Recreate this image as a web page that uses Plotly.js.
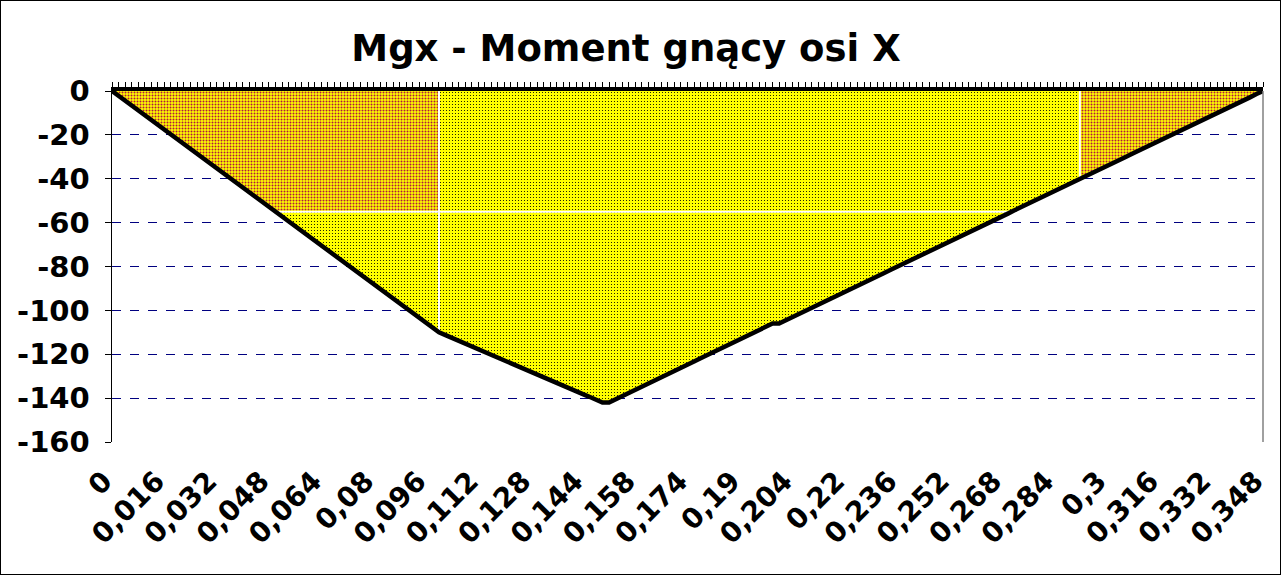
<!DOCTYPE html>
<html>
<head>
<meta charset="utf-8">
<script src="https://cdn.plot.ly/plotly-3.0.1.min.js"></script>
<style>
  html, body { margin: 0; padding: 0; background: #fff; }
  #wrap { position: relative; width: 1281px; height: 575px; }
  #chart { position: absolute; left: 0; top: 0; width: 1281px; height: 575px; }
  #frame { position: absolute; left: 0; top: 0; width: 1279px; height: 573px; border: 1px solid #000; pointer-events: none; }
</style>
</head>
<body>
<div id="wrap"><div id="chart"></div><div id="frame"></div></div>
<script>
// Positions along the beam (category axis, duplicated at 0.15 and 0.2)
const positions = [
  0, 0.002, 0.004, 0.006, 0.008, 0.01, 0.012, 0.014, 0.016, 0.018,
  0.02, 0.022, 0.024, 0.026, 0.028, 0.03, 0.032, 0.034, 0.036, 0.038,
  0.04, 0.042, 0.044, 0.046, 0.048, 0.05, 0.052, 0.054, 0.056, 0.058,
  0.06, 0.062, 0.064, 0.066, 0.068, 0.07, 0.072, 0.074, 0.076, 0.078,
  0.08, 0.082, 0.084, 0.086, 0.088, 0.09, 0.092, 0.094, 0.096, 0.098,
  0.1, 0.102, 0.104, 0.106, 0.108, 0.11, 0.112, 0.114, 0.116, 0.118,
  0.12, 0.122, 0.124, 0.126, 0.128, 0.13, 0.132, 0.134, 0.136, 0.138,
  0.14, 0.142, 0.144, 0.146, 0.148, 0.15, 0.15, 0.152, 0.154, 0.156,
  0.158, 0.16, 0.162, 0.164, 0.166, 0.168, 0.17, 0.172, 0.174, 0.176,
  0.178, 0.18, 0.182, 0.184, 0.186, 0.188, 0.19, 0.192, 0.194, 0.196,
  0.198, 0.2, 0.2, 0.202, 0.204, 0.206, 0.208, 0.21, 0.212, 0.214,
  0.216, 0.218, 0.22, 0.222, 0.224, 0.226, 0.228, 0.23, 0.232, 0.234,
  0.236, 0.238, 0.24, 0.242, 0.244, 0.246, 0.248, 0.25, 0.252, 0.254,
  0.256, 0.258, 0.26, 0.262, 0.264, 0.266, 0.268, 0.27, 0.272, 0.274,
  0.276, 0.278, 0.28, 0.282, 0.284, 0.286, 0.288, 0.29, 0.292, 0.294,
  0.296, 0.298, 0.3, 0.302, 0.304, 0.306, 0.308, 0.31, 0.312, 0.314,
  0.316, 0.318, 0.32, 0.322, 0.324, 0.326, 0.328, 0.33, 0.332, 0.334,
  0.336, 0.338, 0.34, 0.342, 0.344, 0.346, 0.348
];

// Bending moment Mgx
const momentMgx = [
  0, -2.2, -4.4, -6.6, -8.8, -11, -13.2, -15.4, -17.6, -19.8,
  -22, -24.2, -26.4, -28.6, -30.8, -33, -35.2, -37.4, -39.6, -41.8,
  -44, -46.2, -48.4, -50.6, -52.8, -55, -57.2, -59.4, -61.6, -63.8,
  -66, -68.2, -70.4, -72.6, -74.8, -77, -79.2, -81.4, -83.6, -85.8,
  -88, -90.2, -92.4, -94.6, -96.8, -99, -101.2, -103.4, -105.6, -107.8,
  -110, -111.3, -112.6, -113.8, -115.1, -116.4, -117.7, -119.0, -120.2, -121.5,
  -122.8, -124.1, -125.4, -126.6, -127.9, -129.2, -130.5, -131.8, -133.0, -134.3,
  -135.6, -136.9, -138.2, -139.4, -140.7, -142.0, -142.0, -140.6, -139.1, -137.7,
  -136.2, -134.8, -133.4, -131.9, -130.5, -129.0, -127.6, -126.2, -124.7, -123.3,
  -121.8, -120.4, -119.0, -117.5, -116.1, -114.6, -113.2, -111.8, -110.3, -108.9,
  -107.4, -106.0, -106.0, -104.6, -103.1, -101.7, -100.3, -98.8, -97.4, -96.0,
  -94.5, -93.1, -91.7, -90.2, -88.8, -87.4, -85.9, -84.5, -83.1, -81.6,
  -80.2, -78.8, -77.4, -75.9, -74.5, -73.1, -71.6, -70.2, -68.8, -67.3,
  -65.9, -64.5, -63.0, -61.6, -60.2, -58.7, -57.3, -55.9, -54.4, -53.0,
  -51.6, -50.1, -48.7, -47.3, -45.8, -44.4, -43.0, -41.5, -40.1, -38.7,
  -37.2, -35.8, -34.4, -32.9, -31.5, -30.1, -28.6, -27.2, -25.8, -24.4,
  -22.9, -21.5, -20.1, -18.6, -17.2, -15.8, -14.3, -12.9, -11.5, -10.0,
  -8.6, -7.2, -5.7, -4.3, -2.9, -1.4, 0
];

const xTickLabels = ['0', '0,016', '0,032', '0,048', '0,064', '0,08', '0,096', '0,112',
  '0,128', '0,144', '0,158', '0,174', '0,19', '0,204', '0,22', '0,236', '0,252',
  '0,268', '0,284', '0,3', '0,316', '0,332', '0,348'];
const yTickValues = [0, -20, -40, -60, -80, -100, -120, -140, -160];

// Highlighted zones
const zoneLeftEnd = 0.1;      // x limit of left zone
const zoneLeftDepth = -55;    // moment limit of left zone
const zoneRightStart = 0.292; // x start of right zone

const labelStep = 8;
const idx = momentMgx.map((_, i) => i);

function posToIndex(p) {
  for (let i = 0; i < positions.length - 1; i++) {
    if (positions[i] <= p && positions[i + 1] >= p && positions[i + 1] > positions[i]) {
      return i + (p - positions[i]) / (positions[i + 1] - positions[i]);
    }
  }
  return positions.length - 1;
}
function valueAt(fi) {
  const i = Math.floor(fi), f = fi - i;
  if (i >= momentMgx.length - 1) return momentMgx[momentMgx.length - 1];
  return momentMgx[i] + f * (momentMgx[i + 1] - momentMgx[i]);
}
function crossIndex(level, fromRight) {
  const n = momentMgx.length;
  if (!fromRight) {
    for (let i = 0; i < n - 1; i++) {
      const a = momentMgx[i], b = momentMgx[i + 1];
      if (a === level) return i;
      if (a > level && b < level) return i + (a - level) / (a - b);
    }
  } else {
    for (let i = n - 1; i > 0; i--) {
      const a = momentMgx[i], b = momentMgx[i - 1];
      if (a === level) return i;
      if (a > level && b < level) return i - (a - level) / (a - b);
    }
  }
  return 0;
}

const iLeft = posToIndex(zoneLeftEnd);
const iRight = posToIndex(zoneRightStart);

const leftX = [], leftY = [];
for (let i = 0; i <= Math.floor(iLeft); i++) { leftX.push(i); leftY.push(Math.max(momentMgx[i], zoneLeftDepth)); }
if (iLeft > Math.floor(iLeft)) { leftX.push(iLeft); leftY.push(Math.max(valueAt(iLeft), zoneLeftDepth)); }

const rightX = [iRight], rightY = [valueAt(iRight)];
for (let i = Math.ceil(iRight); i < momentMgx.length; i++) { if (i > iRight) { rightX.push(i); rightY.push(momentMgx[i]); } }

const yellowPattern = { shape: '.', bgcolor: '#FFFF00', fgcolor: '#000000', size: 3, solidity: 0.12 };
const orangePattern = { shape: '.', bgcolor: '#FFFF00', fgcolor: '#B01840', size: 3, solidity: 0.34 };

const white = { color: '#FFFFFF', width: 2 };

const traces = [
  { x: idx, y: momentMgx, type: 'scatter', mode: 'lines', fill: 'tozeroy',
    fillcolor: '#FFFF00', fillpattern: yellowPattern, line: { width: 0, color: 'rgba(0,0,0,0)' }, hoverinfo: 'skip' },
  { x: leftX, y: leftY, type: 'scatter', mode: 'lines', fill: 'tozeroy',
    fillcolor: '#FFFF00', fillpattern: orangePattern, line: { width: 0, color: 'rgba(0,0,0,0)' }, hoverinfo: 'skip' },
  { x: rightX, y: rightY, type: 'scatter', mode: 'lines', fill: 'tozeroy',
    fillcolor: '#FFFF00', fillpattern: orangePattern, line: { width: 0, color: 'rgba(0,0,0,0)' }, hoverinfo: 'skip' },
  { x: [iLeft, iLeft], y: [0, valueAt(iLeft)], type: 'scatter', mode: 'lines', line: white, hoverinfo: 'skip' },
  { x: [iRight, iRight], y: [0, valueAt(iRight)], type: 'scatter', mode: 'lines', line: white, hoverinfo: 'skip' },
  { x: [crossIndex(zoneLeftDepth, false), crossIndex(zoneLeftDepth, true)], y: [zoneLeftDepth, zoneLeftDepth],
    type: 'scatter', mode: 'lines', line: white, hoverinfo: 'skip' },
  { x: idx, y: momentMgx, type: 'scatter', mode: 'lines', xaxis: 'x2',
    line: { color: '#000000', width: 4.5 }, hoverinfo: 'skip' }
];

const W = 1281, H = 575;
const M = { l: 112, r: 18, t: 91, b: 133 };
const last = momentMgx.length - 1;

const layout = {
  width: W, height: H,
  margin: M,
  paper_bgcolor: '#FFFFFF',
  plot_bgcolor: '#FFFFFF',
  showlegend: false,
  title: {
    text: 'Mgx - Moment gnący osi X',
    font: { family: 'DejaVu Sans', size: 37, color: '#000000', weight: 'bold' },
    x: 626 / W, xref: 'container', xanchor: 'center',
    y: 1 - 48 / H, yref: 'container', yanchor: 'middle'
  },
  xaxis: {
    range: [0, last],
    tickmode: 'array',
    tickvals: xTickLabels.map((_, i) => i * labelStep),
    ticktext: xTickLabels,
    tickangle: -45,
    ticks: '',
    ticklabelstandoff: 16,
    ticklabelshift: -8,
    showgrid: false,
    zeroline: false,
    showline: false,
    tickfont: { family: 'DejaVu Sans', size: 28, color: '#000000', weight: 'bold' },
    fixedrange: true
  },
  xaxis2: {
    overlaying: 'x',
    side: 'top',
    range: [0, last],
    tickmode: 'array',
    tickvals: idx,
    showticklabels: false,
    ticks: 'outside',
    ticklen: 5,
    tickwidth: 1,
    tickcolor: '#000000',
    showline: true,
    linecolor: '#000000',
    linewidth: 4,
    showgrid: false,
    zeroline: false,
    fixedrange: true
  },
  yaxis: {
    range: [-160, 0],
    tickmode: 'array',
    tickvals: yTickValues,
    ticktext: yTickValues.map(String),
    ticks: 'outside',
    ticklen: 6,
    tickcolor: '#000000',
    ticklabelstandoff: 9,
    showline: true,
    linecolor: '#000000',
    linewidth: 1.5,
    showgrid: true,
    gridcolor: '#000080',
    griddash: 'dash',
    gridwidth: 1,
    zeroline: false,
    tickfont: { family: 'DejaVu Sans', size: 29, color: '#000000', weight: 'bold' },
    fixedrange: true
  },
  shapes: [
    { type: 'line', xref: 'paper', yref: 'paper', x0: 1, x1: 1, y0: 0, y1: 1,
      line: { color: '#808080', width: 1.5 } }
  ]
};

Plotly.newPlot('chart', traces, layout, { displayModeBar: false, staticPlot: true });
</script>
</body>
</html>
